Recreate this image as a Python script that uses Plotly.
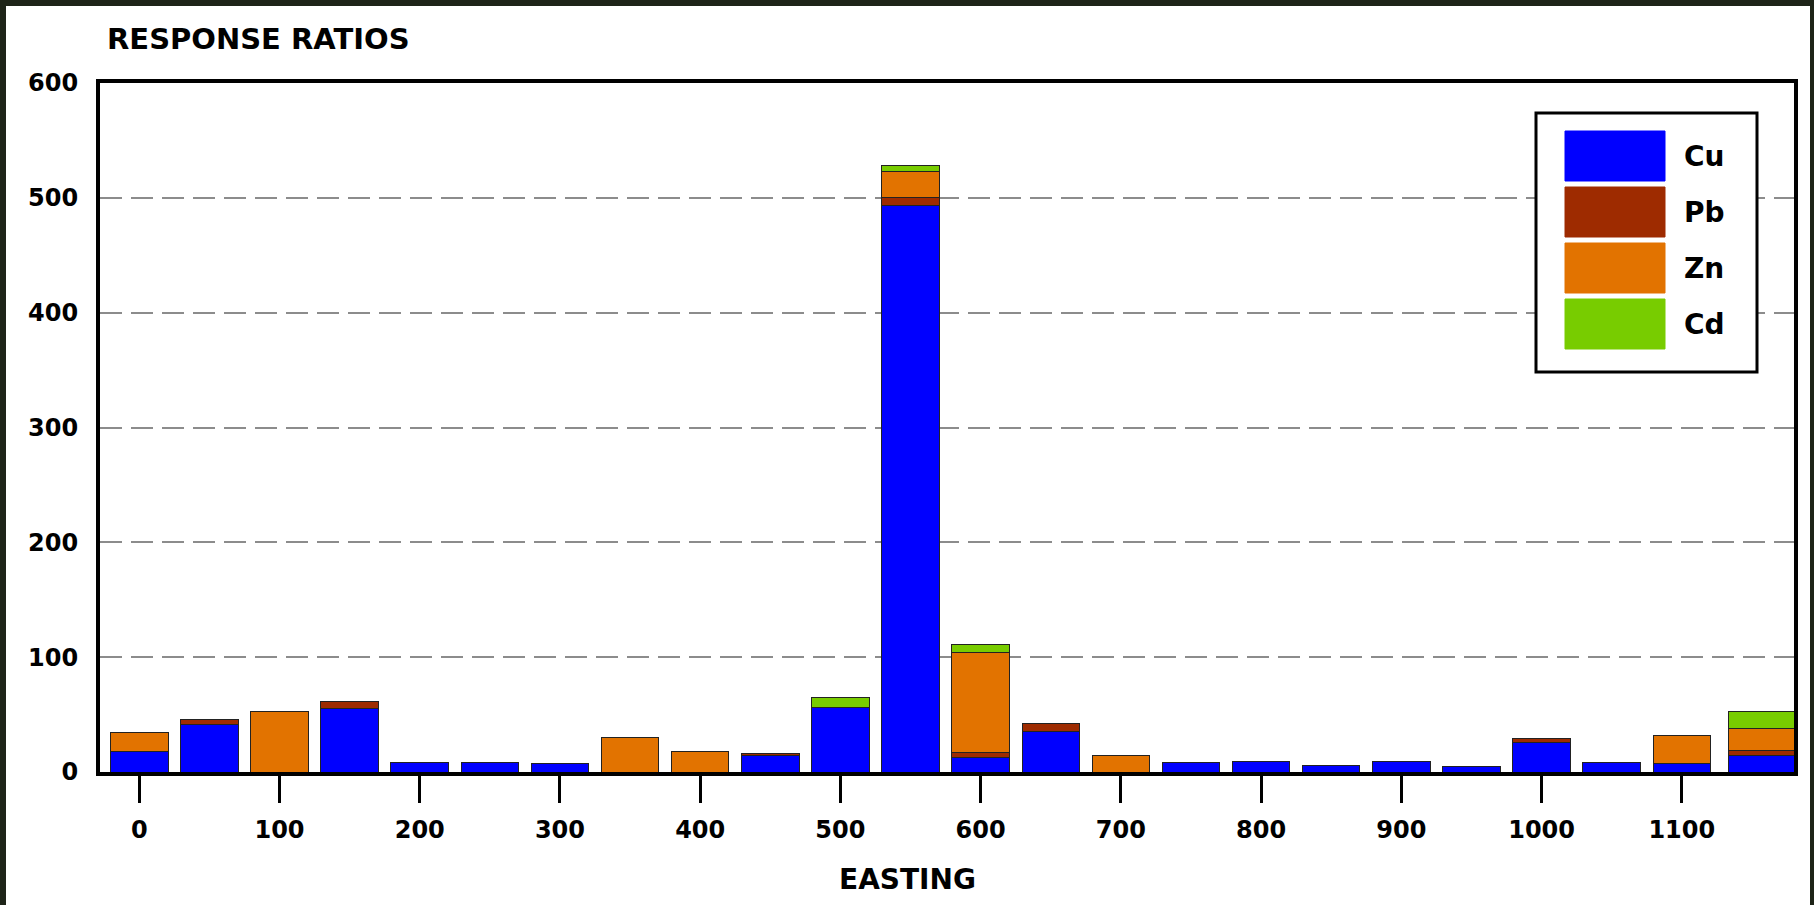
import plotly.graph_objects as go

# ---------------- data ----------------
easting = [0, 50, 100, 150, 200, 250, 300, 350, 400, 450, 500, 550,
           600, 650, 700, 750, 800, 850, 900, 950, 1000, 1050, 1100, 1150]
cu = [18, 41, 0, 55, 8, 8, 7, 0, 0, 14, 56, 493, 13, 35, 0, 8, 9, 6, 9, 5, 26, 8, 7, 14]
pb = [0, 5, 0, 6, 0, 0, 0, 0, 0, 2, 0, 7, 4, 7, 0, 0, 0, 0, 0, 0, 3.5, 0, 0, 5]
zn = [16, 0, 53, 0, 0, 0, 0, 30, 18, 0, 0, 23, 87, 0, 14, 0, 0, 0, 0, 0, 0, 0, 25, 19]
cd = [0, 0, 0, 0, 0, 0, 0, 0, 0, 0, 9, 5, 7, 0, 0, 0, 0, 0, 0, 0, 0, 0, 0, 15]
elements = ["Cu", "Pb", "Zn", "Cd"]
x_ticks = [0, 100, 200, 300, 400, 500, 600, 700, 800, 900, 1000, 1100]
y_ticks = [0, 100, 200, 300, 400, 500, 600]

# ---------------- style ----------------
colors = {"Cu": "#0000FF", "Pb": "#9E2B00", "Zn": "#E27300", "Cd": "#78CC00"}
series = {"Cu": cu, "Pb": pb, "Zn": zn, "Cd": cd}
FONT = "DejaVu Sans"
W, H = 1814, 905
L, R, T, B = 100, 1794, 83, 772  # plot area in pixels

n = len(easting)
widths = [41] * (n - 1) + [47]
offsets = [-20.5] * (n - 1) + [-17]

fig = go.Figure()
for el in elements:
    fig.add_trace(go.Bar(
        x=easting, y=series[el], name=el,
        width=widths, offset=offsets,
        marker=dict(color=colors[el], line=dict(color="#222222", width=1)),
        showlegend=False,
    ))


def px(xp):
    return (xp - L) / (R - L)


def py(yp):
    return (B - yp) / (B - T)


shapes = []
# photo border / white slide
shapes.append(dict(type="rect", xref="paper", yref="paper",
                   x0=px(6), x1=px(1810), y0=py(905), y1=py(6),
                   fillcolor="white", line=dict(width=0), layer="below"))
# custom legend box
shapes.append(dict(type="rect", xref="paper", yref="paper",
                   x0=px(1536), x1=px(1757), y0=py(372), y1=py(113),
                   fillcolor="white", line=dict(color="black", width=3), layer="above"))
annotations = []
sw_top = 131
for i, el in enumerate(elements):
    y0 = sw_top + i * 56
    shapes.append(dict(type="rect", xref="paper", yref="paper",
                       x0=px(1565), x1=px(1665), y0=py(y0 + 50), y1=py(y0),
                       fillcolor=colors[el], line=dict(color=colors[el], width=1),
                       layer="above"))
    annotations.append(dict(text=el, xref="paper", yref="paper",
                            x=px(1682), y=py(y0 + 25), xanchor="left", yanchor="middle",
                            showarrow=False,
                            font=dict(family=FONT, size=28, color="black", weight="bold")))

annotations.append(dict(text="RESPONSE RATIOS", xref="paper", yref="paper",
                        x=px(105), y=py(39), xanchor="left", yanchor="middle",
                        showarrow=False,
                        font=dict(family=FONT, size=29, color="black", weight="bold")))
annotations.append(dict(text="EASTING", xref="paper", yref="paper",
                        x=px(907), y=py(879), xanchor="center", yanchor="middle",
                        showarrow=False,
                        font=dict(family=FONT, size=28, color="black", weight="bold")))

fig.update_layout(
    width=W, height=H,
    margin=dict(l=L, r=W - R, t=T, b=H - B, pad=0),
    barmode="stack",
    paper_bgcolor="#1e2418",
    plot_bgcolor="white",
    shapes=shapes,
    annotations=annotations,
    showlegend=False,
    xaxis=dict(
        range=[-28, 1180],
        tickmode="array", tickvals=x_ticks, ticktext=[str(v) for v in x_ticks],
        ticks="outside", ticklen=27, tickwidth=3, tickcolor="black",
        ticklabelstandoff=6,
        showline=True, linewidth=4, linecolor="black", mirror=True,
        showgrid=False, zeroline=False,
        tickfont=dict(family=FONT, size=24, color="black", weight="bold"),
    ),
    yaxis=dict(
        range=[0, 600],
        tickmode="array", tickvals=y_ticks, ticktext=[str(v) for v in y_ticks],
        ticks="", ticklabelstandoff=13,
        showline=True, linewidth=4, linecolor="black", mirror=True,
        showgrid=True, gridcolor="#8c8c8c", gridwidth=2, griddash="22px,9px",
        zeroline=False,
        tickfont=dict(family=FONT, size=24, color="black", weight="bold"),
    ),
)

fig.write_html("out.html",
               config={"displayModeBar": False},
               post_script="document.body.style.margin='0';document.body.style.overflow='hidden';")
